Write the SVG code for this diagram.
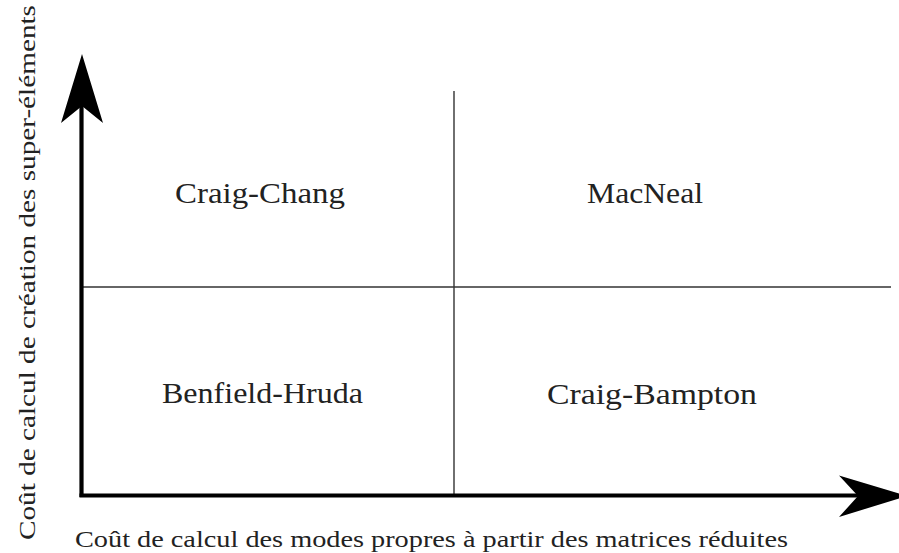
<svg xmlns="http://www.w3.org/2000/svg" width="899" height="553" viewBox="0 0 899 553">
<style>
text{font-family:'Liberation Serif','Times New Roman',Times,serif;fill:#222;}
.big{font-size:29px;}
.ax{font-size:24px;}
.thin{stroke:#333;stroke-width:1.4;fill:none;}
.axis{stroke:#000;stroke-width:4.2;fill:none;}
</style>
<rect width="899" height="553" fill="#fff"/>
<g id="connectors">
<line class="thin" x1="454" y1="91" x2="454" y2="496"/>
<line class="thin" x1="82" y1="287" x2="891" y2="287"/>
<line class="axis" x1="81.5" y1="497" x2="81.5" y2="105"/>
<line class="axis" x1="79.5" y1="495.5" x2="862" y2="495.5"/>
<polygon points="82,54 103,123 82,106 61,123" fill="#000"/>
<polygon points="907,496 839,475.5 858,496 839,517" fill="#000"/>
</g>
<g id="craig-chang"><text class="big" font-family="Liberation Serif, serif" x="175" y="203" textLength="170" lengthAdjust="spacingAndGlyphs">Craig-Chang</text></g>
<g id="macneal"><text class="big" font-family="Liberation Serif, serif" x="587" y="203" textLength="116" lengthAdjust="spacingAndGlyphs">MacNeal</text></g>
<g id="benfield-hruda"><text class="big" font-family="Liberation Serif, serif" x="162" y="403" textLength="201" lengthAdjust="spacingAndGlyphs">Benfield-Hruda</text></g>
<g id="craig-bampton"><text class="big" font-family="Liberation Serif, serif" x="547" y="404" textLength="210" lengthAdjust="spacingAndGlyphs">Craig-Bampton</text></g>
<g id="x-label"><text class="ax" font-family="Liberation Serif, serif" x="75" y="547" textLength="713" lengthAdjust="spacingAndGlyphs">Coût de calcul des modes propres à partir des matrices réduites</text></g>
<g id="y-label"><text class="ax" font-family="Liberation Serif, serif" transform="translate(35,540) rotate(-90)" x="0" y="0" textLength="535" lengthAdjust="spacingAndGlyphs">Coût de calcul de création des super-éléments</text></g>
</svg>
